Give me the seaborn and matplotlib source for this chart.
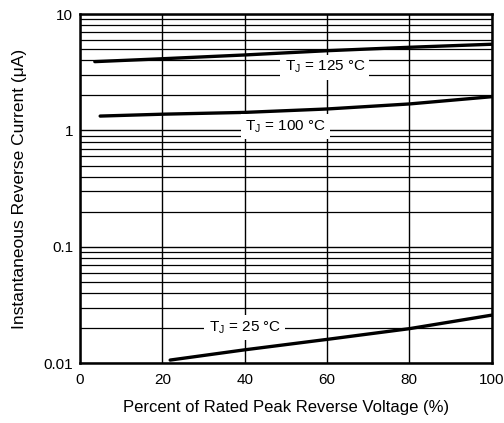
import matplotlib
matplotlib.use("Agg")
import matplotlib.pyplot as plt
import matplotlib.ticker as mticker
import seaborn as sns
import pandas as pd

x_125 = [3.6, 20, 40, 60, 80, 100]
y_125 = [3.9, 4.13, 4.45, 4.84, 5.18, 5.5]
x_100 = [4.9, 20, 40, 60, 80, 100]
y_100 = [1.33, 1.38, 1.43, 1.53, 1.69, 1.95]
x_25 = [21.9, 40, 60, 80, 100]
y_25 = [0.0107, 0.0131, 0.0161, 0.0199, 0.026]

labels = ["T$_\\mathregular{J}$ = 125 °C", "T$_\\mathregular{J}$ = 100 °C", "T$_\\mathregular{J}$ = 25 °C"]
label_x = [59.5, 50, 40]
label_y = [3.5, 1.08, 0.0202]

x_ticks = [0, 20, 40, 60, 80, 100]
y_ticks = [0.01, 0.1, 1, 10]
y_ticklabels = ["0.01", "0.1", "1", "10"]

sns.set_theme(style="white")
plt.rcParams['font.family'] = ['Liberation Sans', 'DejaVu Sans']
plt.rcParams['mathtext.fontset'] = 'custom'
plt.rcParams['mathtext.rm'] = 'Liberation Sans'

fig = plt.figure(figsize=(5.04, 4.23), dpi=100)
ax = fig.add_axes([0.1587, 0.1407, 0.9756 - 0.1587, 0.9669 - 0.1407])

df = pd.concat([
    pd.DataFrame({"x": x_125, "y": y_125, "s": "125"}),
    pd.DataFrame({"x": x_100, "y": y_100, "s": "100"}),
    pd.DataFrame({"x": x_25, "y": y_25, "s": "25"}),
])
sns.lineplot(data=df, x="x", y="y", units="s", estimator=None, color="black",
             linewidth=2.4, ax=ax, zorder=3)

ax.set_yscale("log")
ax.set_xlim(0, 100)
ax.set_ylim(0.01, 10)
ax.set_xticks(x_ticks)
ax.set_xticklabels([str(t) for t in x_ticks])
ax.yaxis.set_major_locator(mticker.FixedLocator(y_ticks))
ax.yaxis.set_major_formatter(mticker.FixedFormatter(y_ticklabels))
ax.yaxis.set_minor_locator(mticker.LogLocator(base=10, subs=range(2, 10)))
ax.yaxis.set_minor_formatter(mticker.NullFormatter())

ax.grid(True, which="major", axis="both", color="black", linewidth=1.0)
ax.grid(True, which="minor", axis="y", color="black", linewidth=0.9)
ax.tick_params(which="both", length=0, labelsize=11, colors="black")
ax.tick_params(axis="x", pad=7)
ax.tick_params(axis="y", pad=5)

for sp in ax.spines.values():
    sp.set_color("black")
    sp.set_linewidth(1.8)
    sp.set_zorder(5)

for t, lx, ly in zip(labels, label_x, label_y):
    ax.text(lx, ly, t, ha="center", va="center", fontsize=11, color="black", zorder=4,
            bbox=dict(facecolor="white", edgecolor="none", pad=3))

ax.set_xlabel("Percent of Rated Peak Reverse Voltage (%)", fontsize=12, color="black", labelpad=9)
ax.set_ylabel("Instantaneous Reverse Current (μA)", fontsize=12.5, color="black", labelpad=12)

fig.savefig("out.png", dpi=100)
